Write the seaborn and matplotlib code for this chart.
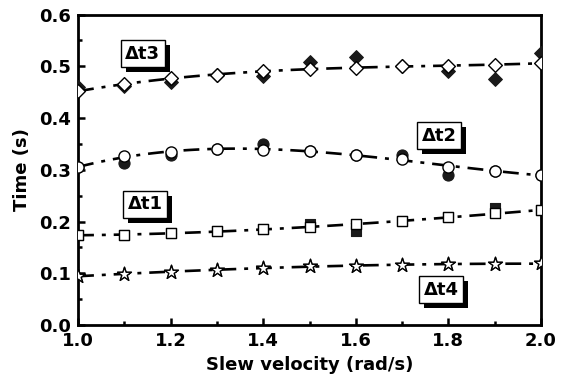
import numpy as np
import pandas as pd
import matplotlib
matplotlib.use("Agg")
import matplotlib.pyplot as plt
from matplotlib import patheffects
from matplotlib.ticker import MultipleLocator
import seaborn as sns

# Slew velocity (rad/s)
velocity = [1.0, 1.1, 1.2, 1.3, 1.4, 1.5, 1.6, 1.7, 1.8, 1.9, 2.0]

# Measured times (s): open markers = simulated, filled = experimental
dt3_open = [0.452, 0.465, 0.477, 0.484, 0.490, 0.495, 0.497, 0.500, 0.501, 0.503, 0.506]
dt3_fill = [0.460, 0.462, 0.469, 0.484, 0.482, 0.508, 0.518, 0.500, 0.490, 0.476, 0.525]
dt2_open = [0.305, 0.326, 0.334, 0.341, 0.339, 0.336, 0.328, 0.321, 0.306, 0.297, 0.290]
dt2_fill = [0.305, 0.313, 0.328, 0.341, 0.349, 0.336, 0.328, 0.329, 0.290, 0.297, 0.290]
dt1_open = [0.174, 0.174, 0.177, 0.182, 0.185, 0.189, 0.195, 0.201, 0.208, 0.216, 0.222]
dt1_fill = [0.174, 0.174, 0.177, 0.182, 0.185, 0.195, 0.181, 0.201, 0.208, 0.227, 0.222]
dt4_open = [0.095, 0.098, 0.103, 0.107, 0.110, 0.114, 0.115, 0.116, 0.118, 0.118, 0.119]
dt4_fill = [0.095, 0.098, 0.103, 0.107, 0.110, 0.114, 0.115, 0.116, 0.118, 0.118, 0.119]

labels = ["\u0394t3", "\u0394t2", "\u0394t1", "\u0394t4"]
label_pos = [(1.14, 0.524), (1.78, 0.366), (1.145, 0.233), (1.785, 0.068)]

sns.set_theme(style="ticks")
plt.rcParams["font.family"] = ["DejaVu Sans"]
plt.rcParams["font.weight"] = "bold"
for key in ("text.color", "axes.labelcolor", "xtick.color", "ytick.color", "axes.edgecolor"):
    plt.rcParams[key] = "black"

fig = plt.figure(figsize=(5.7, 3.82), dpi=100)
ax = fig.add_axes([0.137, 0.149, 0.812, 0.813])

series = [
    (dt3_open, dt3_fill, "D", 7),
    (dt2_open, dt2_fill, "o", 8),
    (dt1_open, dt1_fill, "s", 7),
    (dt4_open, dt4_fill, "*", 10.5),
]

dash_dot = (0, (6, 3, 1.5, 3))
for opn, fil, mk, ms in series:
    df = pd.DataFrame({"v": velocity, "open": opn, "fill": fil})
    sns.regplot(data=df, x="v", y="open", order=3, ci=None, scatter=False,
                ax=ax, line_kws=dict(color="black", lw=1.9, ls=dash_dot, zorder=2))
    sns.scatterplot(data=df, x="v", y="fill", marker=mk, s=ms ** 2,
                    color="#1a1a1a", edgecolor="#1a1a1a", linewidth=0.8,
                    ax=ax, zorder=3, legend=False)
    sns.scatterplot(data=df, x="v", y="open", marker=mk, s=ms ** 2,
                    color="white", edgecolor="black", linewidth=1.0,
                    ax=ax, zorder=4, legend=False)

# Boxed series labels with a solid drop shadow
for txt, (x, y) in zip(labels, label_pos):
    t = ax.text(x, y, txt, ha="center", va="center", fontsize=13,
                fontweight="bold", color="black", zorder=6,
                bbox=dict(boxstyle="square,pad=0.25", fc="white", ec="black", lw=1))
    t.get_bbox_patch().set_path_effects([
        patheffects.SimplePatchShadow(offset=(3.5, -3.5), shadow_rgbFace="black", alpha=1.0),
        patheffects.Normal(),
    ])

ax.set_xlim(1.0, 2.0)
ax.set_ylim(0.0, 0.6)
ax.xaxis.set_major_locator(MultipleLocator(0.2))
ax.xaxis.set_minor_locator(MultipleLocator(0.1))
ax.yaxis.set_major_locator(MultipleLocator(0.1))
ax.yaxis.set_minor_locator(MultipleLocator(0.05))
ax.xaxis.set_major_formatter(plt.FormatStrFormatter("%.1f"))
ax.yaxis.set_major_formatter(plt.FormatStrFormatter("%.1f"))
ax.tick_params(which="both", direction="in", width=1.8, labelsize=13,
               top=False, right=False, colors="black")
ax.tick_params(which="major", length=5, pad=5)
ax.tick_params(which="minor", length=3)
for lab in ax.get_xticklabels() + ax.get_yticklabels():
    lab.set_fontweight("bold")
for sp in ax.spines.values():
    sp.set_visible(True)
    sp.set_linewidth(2.0)
    sp.set_color("black")

ax.set_xlabel("Slew velocity (rad/s)", fontsize=13, fontweight="bold",
              color="black", labelpad=4)
ax.set_ylabel("Time (s)", fontsize=13, fontweight="bold", color="black", labelpad=6)

fig.savefig("out.png", dpi=100, facecolor="white")
